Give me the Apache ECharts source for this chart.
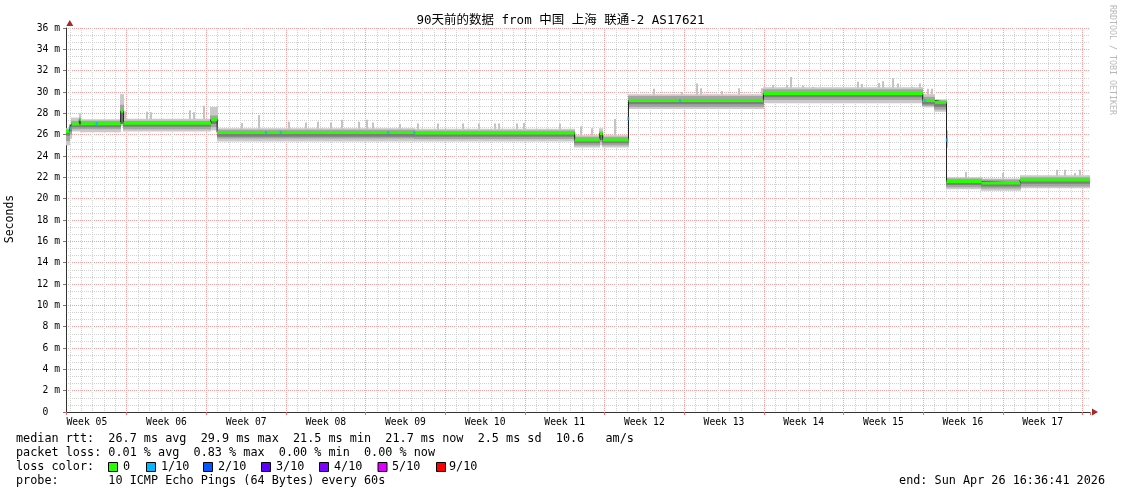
<!DOCTYPE html>
<html><head><meta charset="utf-8">
<script src="https://cdn.jsdelivr.net/npm/echarts@6/dist/echarts.min.js"></script>
<style>html,body{margin:0;padding:0;background:#fff}#c{width:1121px;height:494px}</style>
</head><body><div id="c"></div>
<script>
// ---- data (x in days from the graph start, y in milliseconds) ----
const segStart = [0.00,0.31,0.48,1.17,1.29,4.81,5.04,12.74,13.28,30.63,44.71,46.93,47.17,49.44,61.29,75.30,76.37,77.39,80.48,83.85];
const segEnd   = [0.31,0.48,1.17,1.29,4.81,5.04,12.74,13.28,30.63,44.71,46.93,47.17,49.44,61.29,75.30,76.37,77.39,80.48,83.85,90.00];
const median   = [26.3,26.6,27.0,27.4,27.03,28.2,27.07,27.4,26.2,26.15,25.5,26.1,25.5,29.2,29.87,29.2,29.03,21.6,21.47,21.75];
const outerLo  = [25.0,25.6,26.3,26.4,26.22,26.8,26.3,26.4,25.35,25.35,24.8,25.0,24.8,28.4,28.94,28.56,28.15,20.88,20.75,20.97];
const outerHi  = [26.6,27.0,27.6,28.0,27.45,29.8,27.5,28.6,26.6,26.55,25.95,26.6,25.95,29.8,30.44,29.8,29.3,22.0,21.9,22.19];
const midLo    = [25.4,26.0,26.5,26.6,26.5,27.0,26.5,26.7,25.65,25.6,25.0,25.3,25.0,28.6,29.25,28.7,28.35,21.06,20.95,21.15];
const midHi    = [26.5,26.9,27.3,27.6,27.3,28.8,27.3,27.8,26.45,26.4,25.8,26.3,25.8,29.63,30.25,29.55,29.2,21.9,21.8,22.0];
const darkLo   = [25.9,26.3,26.7,27.0,26.7,27.0,26.75,27.0,25.8,25.8,25.2,25.5,25.2,28.84,29.5,28.84,28.6,21.28,21.15,21.4];
const darkHi   = [26.4,26.7,27.05,27.45,27.05,28.25,27.1,27.45,26.25,26.2,25.55,26.15,25.55,29.25,29.9,29.25,29.08,21.65,21.5,21.8];

const spikeDay = [5.19,7.16,7.43,10.90,11.25,12.13,15.44,16.96,19.60,21.09,22.15,23.26,24.23,25.75,26.43,26.98,29.35,30.94,32.69,34.89,36.30,37.70,38.06,39.64,40.25,43.42,45.26,46.20,48.25,51.68,54.11,55.43,55.78,57.63,59.17,61.14,62.16,63.34,63.72,64.77,65.65,69.63,69.99,71.48,71.83,72.71,73.15,74.33,75.06,75.79,76.09,77.41,79.10,82.38,87.07,87.80,88.68,89.12];
const spikeLo  = [27.3,27.3,27.3,27.3,27.3,27.3,26.4,26.4,26.4,26.4,26.4,26.4,26.4,26.4,26.4,26.4,26.4,26.4,26.4,26.4,26.4,26.4,26.4,26.4,26.4,26.4,25.9,25.9,25.9,29.7,29.7,29.7,29.7,29.7,29.7,29.7,30.3,30.3,30.3,30.3,30.3,30.3,30.3,30.3,30.3,30.3,30.3,30.3,30.3,29.7,29.7,24.8,21.9,21.8,22.1,22.1,22.1,22.1];
const spikeHi  = [28.2,28.15,28.1,28.3,28.1,28.7,27.1,27.85,27.2,27.15,27.2,27.15,27.4,27.2,27.4,27.15,27.0,27.05,27.05,27.05,27.05,27.05,27.05,27.05,27.1,27.05,26.8,26.6,27.47,30.3,30.0,30.8,30.35,30.1,30.35,30.35,30.65,30.65,31.4,30.6,30.5,30.97,30.75,30.85,31.0,31.28,30.8,30.5,30.8,30.3,30.3,26.4,22.5,22.4,22.7,22.7,22.4,22.7];

const lossDay = [0.41,2.70,17.58,18.87,28.33,30.61,49.42,53.96,75.49,77.41];
const lossVal = [26.6,27.05,26.2,26.2,26.2,26.2,27.5,29.2,29.2,25.5];

const weekLabels = ['Week 05','Week 06','Week 07','Week 08','Week 09','Week 10','Week 11','Week 12','Week 13','Week 14','Week 15','Week 16','Week 17'];
const yLabels = ['0  ','2 m','4 m','6 m','8 m','10 m','12 m','14 m','16 m','18 m','20 m','22 m','24 m','26 m','28 m','30 m','32 m','34 m','36 m'];

const lossNames  = ['0','1/10','2/10','3/10','4/10','5/10','9/10'];
const lossColors = ['#26ff00','#00b8ff','#0059ff','#5e00ff','#7e00ff','#dd00ff','#ff0000'];

const titleText = '90天前的数据 from 中国 上海 联通-2 AS17621';
const statLines = [
  'median rtt:  26.7 ms avg  29.9 ms max  21.5 ms min  21.7 ms now  2.5 ms sd  10.6   am/s',
  'packet loss: 0.01 % avg  0.83 % max  0.00 % min  0.00 % now',
  'loss color:',
  'probe:       10 ICMP Echo Pings (64 Bytes) every 60s'
];
const endText = 'end: Sun Apr 26 16:36:41 2026';

// ---- styling ----
const MONO = "'DejaVu Sans Mono', 'Noto Sans CJK SC', monospace";
const MAJOR = '#f2a2a2';
const MINOR = '#d2d2d2';

function bandSeries(lo, hi, color) {
  return {
    type: 'custom', xAxisIndex: 0, yAxisIndex: 0, silent: true, z: 3,
    data: segStart.map((s, i) => [s, segEnd[i], lo[i], hi[i]]),
    encode: { x: [0, 1], y: [2, 3] },
    renderItem: (params, api) => {
      const a = api.coord([api.value(0), api.value(3)]);
      const b = api.coord([api.value(1), api.value(2)]);
      const x0 = Math.floor(a[0]), x1 = Math.ceil(b[0]);
      return { type: 'rect', shape: { x: x0, y: a[1], width: x1 - x0, height: b[1] - a[1] }, style: { fill: color } };
    }
  };
}

const medianPts = [];
segStart.forEach((s, i) => { medianPts.push([s, median[i]]); medianPts.push([segEnd[i], median[i]]); });

const rowY = [439, 453, 467, 481];
const boxX = [108, 146, 203, 261, 319, 377.5, 436];
const boxLabelX = [123, 161, 218, 276, 334, 392, 449];

const graphics = [
  { type: 'text', x: 560.5, y: 21, style: { text: titleText, fontFamily: MONO, fontSize: 12.5, fill: '#000', align: 'center', verticalAlign: 'middle' } },
  { type: 'text', x: 10, y: 219, rotation: Math.PI / 2, style: { text: 'Seconds', fontFamily: MONO, fontSize: 11.5, fill: '#000', align: 'center', verticalAlign: 'middle' } },
  { type: 'text', x: 1112, y: 60, rotation: -Math.PI / 2, style: { text: 'RRDTOOL / TOBI OETIKER', fontFamily: MONO, fontSize: 8.3, fill: '#b8b8b8', align: 'center', verticalAlign: 'middle' } },
  { type: 'text', x: 1105, y: rowY[3], style: { text: endText, fontFamily: MONO, fontSize: 11.8, fill: '#000', align: 'right', verticalAlign: 'middle' } }
];
statLines.forEach((t, i) => graphics.push({ type: 'text', x: 16, y: rowY[i], style: { text: t, fontFamily: MONO, fontSize: 11.8, fill: '#000', align: 'left', verticalAlign: 'middle' } }));
lossNames.forEach((n, i) => {
  graphics.push({ type: 'rect', shape: { x: boxX[i] + 0.5, y: rowY[2] - 4.5, width: 9, height: 9 }, style: { fill: lossColors[i], stroke: '#000', lineWidth: 1 } });
  graphics.push({ type: 'text', x: boxLabelX[i], y: rowY[2], style: { text: n, fontFamily: MONO, fontSize: 11.8, fill: '#000', align: 'left', verticalAlign: 'middle' } });
});

const hidden = { axisLine: { show: false }, axisTick: { show: false }, axisLabel: { show: false }, splitLine: { show: false } };

const option = {
  animation: false,
  backgroundColor: '#ffffff',
  grid: { left: 66, right: 31, top: 28, bottom: 82, containLabel: false, outerBoundsMode: 'none' },
  xAxis: [
    { type: 'value', min: 0, max: 90, position: 'bottom', ...hidden, axisLine: { show: true, lineStyle: { color: '#333', width: 1 } } },
    { type: 'value', min: -1/3, max: 90 - 1/3, minInterval: 1, maxInterval: 1, splitNumber: 90, position: 'bottom', ...hidden,
      splitLine: { show: true, showMinLine: false, showMaxLine: false, lineStyle: { color: MINOR, type: [1, 1], width: 1 } } },
    { type: 'value', min: -16/3, max: 90 - 16/3, minInterval: 7, maxInterval: 7, splitNumber: 13, position: 'bottom', ...hidden,
      axisTick: { show: true, length: 3, lineStyle: { color: '#e07070' } },
      splitLine: { show: true, showMinLine: false, showMaxLine: false, lineStyle: { color: MAJOR, type: [1, 1], width: 1 } } },
    { type: 'value', min: -11/6, max: 90 - 11/6, minInterval: 7, maxInterval: 7, splitNumber: 13, position: 'bottom', ...hidden,
      axisLabel: { show: true, showMinLabel: false, showMaxLabel: false, margin: 6, fontFamily: MONO, fontSize: 9.7, color: '#000',
        formatter: v => weekLabels[Math.round(v / 7)] || '' } },
    { type: 'value', min: 0, max: 90, position: 'bottom', ...hidden,
      axisLine: { show: true, symbol: ['none', 'triangle'], symbolSize: [7, 6], symbolOffset: [0, 5], lineStyle: { color: '#a52a2a', width: 0 } } }
  ],
  yAxis: [
    { type: 'value', min: 0, max: 36, interval: 2, position: 'left',
      axisLine: { show: true, lineStyle: { color: '#333', width: 1 } },
      axisTick: { show: true, length: 3, lineStyle: { color: '#777' } },
      minorTick: { show: false, splitNumber: 3 },
      axisLabel: { margin: 6, fontFamily: MONO, fontSize: 9.7, color: '#000', formatter: v => yLabels[Math.round(v / 2)] },
      splitLine: { show: true, lineStyle: { color: MAJOR, type: [1, 1], width: 1 } },
      minorSplitLine: { show: true, lineStyle: { color: MINOR, type: [1, 1], width: 1 } } },
    { type: 'value', min: 0, max: 36, position: 'left', ...hidden,
      axisLine: { show: true, symbol: ['none', 'triangle'], symbolSize: [7, 6], symbolOffset: [0, 5], lineStyle: { color: '#a52a2a', width: 0 } } }
  ],
  graphic: graphics,
  series: [
    { type: 'custom', xAxisIndex: 0, yAxisIndex: 0, silent: true, z: 2,
      data: spikeDay.map((d, i) => [d, spikeLo[i], spikeHi[i]]),
      encode: { x: 0, y: [1, 2] },
      renderItem: (params, api) => {
        const a = api.coord([api.value(0), api.value(2)]);
        const b = api.coord([api.value(0), api.value(1)]);
        return { type: 'rect', shape: { x: Math.round(a[0]) - 1, y: a[1], width: 2, height: b[1] - a[1] }, style: { fill: '#c4c4c4' } };
      } },
    bandSeries(outerLo, outerHi, '#cacaca'),
    bandSeries(midLo, midHi, '#a4a4a4'),
    bandSeries(darkLo, darkHi, '#7e7e7e'),
    { type: 'line', xAxisIndex: 0, yAxisIndex: 0, data: medianPts, symbol: 'none', silent: true, z: 4,
      lineStyle: { color: '#202020', width: 1 } },
    { type: 'custom', xAxisIndex: 0, yAxisIndex: 0, silent: true, z: 5,
      data: segStart.map((s, i) => [s, segEnd[i], median[i]]),
      encode: { x: [0, 1], y: 2 },
      renderItem: (params, api) => {
        const a = api.coord([api.value(0), api.value(2)]);
        const b = api.coord([api.value(1), api.value(2)]);
        return { type: 'line', shape: { x1: a[0], y1: a[1], x2: b[0], y2: b[1] }, style: { stroke: '#26ff00', lineWidth: 3 } };
      } },
    { type: 'scatter', xAxisIndex: 0, yAxisIndex: 0, silent: true, z: 6,
      data: lossDay.map((d, i) => [d, lossVal[i]]),
      symbol: 'rect', symbolSize: [2, 3], itemStyle: { color: '#00b8ff' } }
  ]
};

const chart = echarts.init(document.getElementById('c'), null, { renderer: 'canvas' });
chart.setOption(option);
</script>
</body></html>
